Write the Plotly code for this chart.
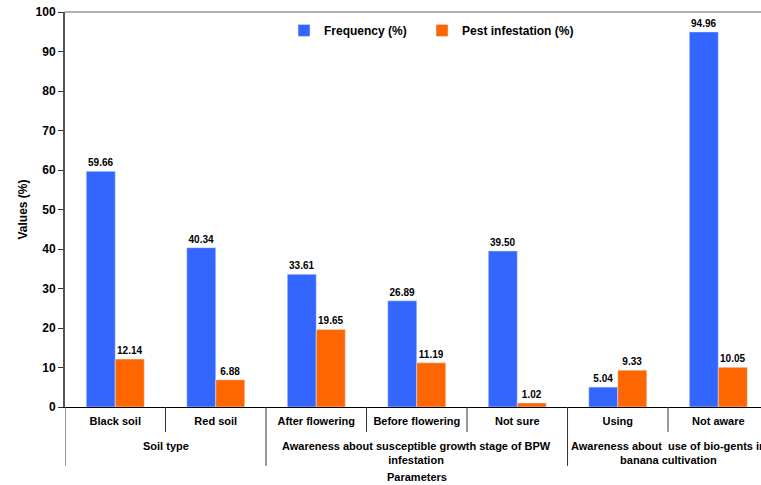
import plotly.graph_objects as go

categories = ["Black soil", "Red soil", "After flowering", "Before flowering", "Not sure", "Using", "Not aware"]
frequency = [59.66, 40.34, 33.61, 26.89, 39.50, 5.04, 94.96]
pest = [12.14, 6.88, 19.65, 11.19, 1.02, 9.33, 10.05]
groups = ["Soil type",
          "Awareness about susceptible growth stage of BPW<br>infestation",
          "Awareness about  use of bio-gents in<br>banana cultivation"]
group_spans = [(0, 1), (2, 4), (5, 6)]
y_ticks = list(range(0, 101, 10))

FONT = "Liberation Sans, Arial, sans-serif"
BLUE = "#3366FF"
ORANGE = "#FF6600"
LEG_FONT = dict(size=12, family=FONT, weight="bold", color="black")

fig = go.Figure()
fig.add_trace(go.Bar(x=categories, y=frequency, name="Frequency (%)", marker_color=BLUE,
                     texttemplate="%{y:.2f}", textposition="outside",
                     textfont=dict(size=10, color="black", family=FONT, weight="bold"),
                     cliponaxis=False, legend="legend"))
fig.add_trace(go.Bar(x=categories, y=pest, name="Pest infestation (%)", marker_color=ORANGE,
                     texttemplate="%{y:.2f}", textposition="outside",
                     textfont=dict(size=10, color="black", family=FONT, weight="bold"),
                     cliponaxis=False, legend="legend2"))

shapes = []
# top frame line
shapes.append(dict(type="line", xref="paper", yref="paper", x0=0, x1=1, y0=1, y1=1,
                   line=dict(color="#999999", width=1.5)))
# dividers
group_starts = [s for s, e in group_spans]
for i in range(len(categories) + 1):
    xpos = i - 0.5
    long = i in group_starts or i == len(categories)
    shapes.append(dict(type="line", xref="x", yref="paper", x0=xpos, x1=xpos, y0=0,
                       y1=-0.149 if long else -0.063,
                       line=dict(color="#333333", width=1)))

annotations = []
for g, (s, e) in zip(groups, group_spans):
    annotations.append(dict(x=(s + e) / 2, y=-0.078, xref="x", yref="paper", text=g,
                            showarrow=False, yanchor="top", align="center",
                            font=dict(size=11, family=FONT, color="black", weight="bold")))
annotations.append(dict(x=3, y=-0.158, xref="x", yref="paper", text="Parameters",
                        showarrow=False, yanchor="top",
                        font=dict(size=11, family=FONT, color="black", weight="bold")))

fig.update_layout(
    width=761, height=485,
    margin=dict(l=65, r=0, t=12, b=78),
    paper_bgcolor="white", plot_bgcolor="white",
    font=dict(family=FONT, size=12, color="black", weight="bold"),
    barmode="group", bargap=0.423, bargroupgap=0,
    showlegend=True,
    legend=dict(orientation="h", x=0.3147, y=0.99, xanchor="left", yanchor="top",
                font=LEG_FONT, bgcolor="rgba(0,0,0,0)", itemwidth=30),
    legend2=dict(orientation="h", x=0.513, y=0.99, xanchor="left", yanchor="top",
                 font=LEG_FONT, bgcolor="rgba(0,0,0,0)", itemwidth=30),
    shapes=shapes, annotations=annotations,
)
fig.update_xaxes(range=[-0.5, 6.425], showgrid=False, ticks="", showline=True,
                 linecolor="black", linewidth=1, automargin=False,
                 tickfont=dict(size=11, family=FONT, weight="bold"), ticklabelstandoff=4)
fig.update_yaxes(range=[0, 100], tickvals=y_ticks, showgrid=False, ticks="outside", ticklen=5,
                 tickcolor="#333333", showline=True, linecolor="#555555", linewidth=2,
                 zeroline=False, automargin=False,
                 title=dict(text="Values (%)", font=dict(size=12, family=FONT, weight="bold"), standoff=5),
                 tickfont=dict(size=12, family=FONT, weight="bold"))

fig.write_html("out.html", config={"displayModeBar": False},
               post_script="document.body.style.margin='0';")
